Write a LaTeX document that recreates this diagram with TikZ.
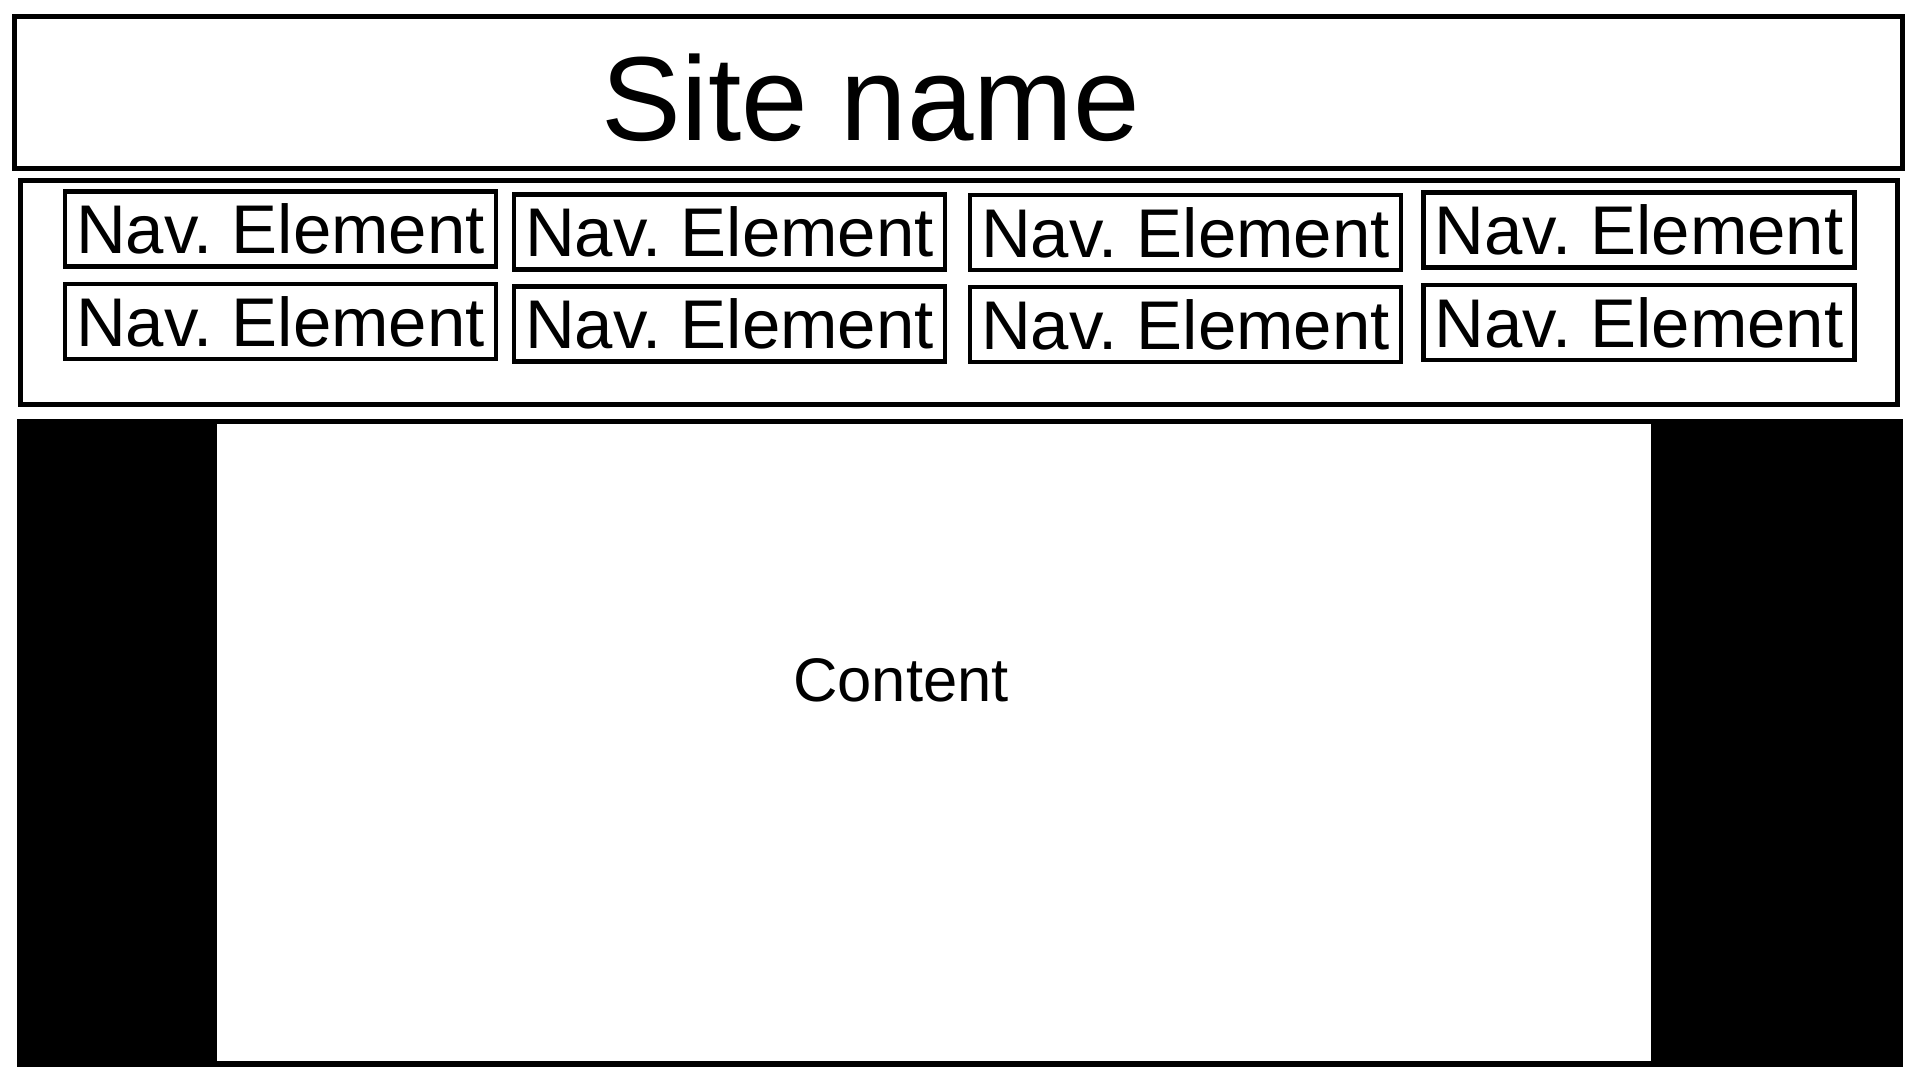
\documentclass[tikz,border=0pt]{standalone}
\usepackage{fontspec}
\setmainfont{Liberation Sans}
\frenchspacing
\tikzstyle{bar} = [rectangle, draw=black, line width=0.05cm, inner sep=0pt]
\tikzstyle{navel} = [rectangle, draw=black, line width=0.045cm, minimum width=4.31cm, minimum height=0.75cm, inner sep=0pt, font=\fontsize{19.6}{21}\selectfont]
\tikzstyle{side} = [rectangle, fill=black, inner sep=0pt]
\begin{document}
\begin{tikzpicture}[x=0.01cm, y=-0.01cm]
	\useasboundingbox (0,0) rectangle (1920,1080);
	% header
	\node (titlebar) [bar, minimum width=18.87cm, minimum height=1.51cm] at (958.5,92.5) {};
	\node (sitename) [anchor=base, font=\fontsize{34}{36}\selectfont] at (871,141) {Site name};
	% navigation
	\node (navbar) [bar, minimum width=18.76cm, minimum height=2.23cm] at (959,292.5) {};
	\node (nav11) [navel] at (280.5,229) {Nav. Element};
	\node (nav12) [navel] at (729.5,232) {Nav. Element};
	\node (nav13) [navel] at (1185.5,232.5) {Nav. Element};
	\node (nav14) [navel] at (1639,230) {Nav. Element};
	\node (nav21) [navel] at (280.5,321.5) {Nav. Element};
	\node (nav22) [navel] at (729.5,324) {Nav. Element};
	\node (nav23) [navel] at (1185.5,324.5) {Nav. Element};
	\node (nav24) [navel] at (1639,322.5) {Nav. Element};
	% body
	\node (page) [side, minimum width=18.84cm, minimum height=6.48cm] at (960,743) {};
	\node (content) [rectangle, fill=white, inner sep=0pt, minimum width=14.34cm, minimum height=6.37cm] at (934,742.5) {};
	\node (contentlabel) [anchor=base, font=\fontsize{17.5}{19}\selectfont] at (901,702) {Content};
\end{tikzpicture}
\end{document}
